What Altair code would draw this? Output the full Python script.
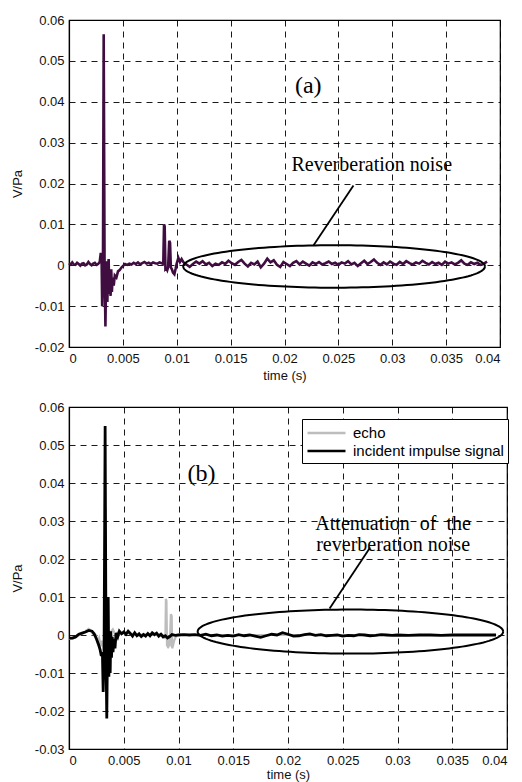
import altair as alt
import numpy as np
import pandas as pd

# ---------------- axis ticks ----------------
x_ticks = [0, 0.005, 0.01, 0.015, 0.02, 0.025, 0.03, 0.035, 0.04]
y_ticks_a = [-0.02, -0.01, 0, 0.01, 0.02, 0.03, 0.04, 0.05, 0.06]
y_ticks_b = [-0.03, -0.02, -0.01, 0, 0.01, 0.02, 0.03, 0.04, 0.05, 0.06]

# ---------------- panel (a): measured signal (time in ms, value in V/Pa) ----------------
a_t_ms = [0.0, 0.15, 0.3, 0.45, 0.6, 0.75, 0.9, 1.05, 1.2, 1.35, 1.5, 1.65, 1.8, 1.95, 2.1, 2.25, 2.4, 2.55, 2.7, 2.85,
          2.95, 3.02, 3.08, 3.15, 3.22, 3.3, 3.38, 3.45, 3.5, 3.56, 3.62, 3.68, 3.74, 3.8, 3.86, 3.92, 3.98, 4.05, 4.15,
          4.25, 4.4, 4.55, 4.7, 4.85, 5.0,
          5.2, 5.4, 5.6, 5.8, 6.0, 6.2, 6.4, 6.6, 6.8, 7.0, 7.2, 7.4, 7.6, 7.8, 8.0, 8.2, 8.4, 8.6, 8.75,
          8.82, 8.88, 8.95, 9.05, 9.12, 9.2, 9.3, 9.38, 9.45, 9.55, 9.65, 9.78, 9.9, 10.0, 10.15, 10.3, 10.45,
          10.6, 10.9, 11.2, 11.5, 11.8, 12.1, 12.4, 12.7, 13.0, 13.3, 13.6, 13.9, 14.2, 14.5, 14.8, 15.1, 15.4, 15.7,
          16.0, 16.3, 16.6, 16.9, 17.2, 17.5, 17.8, 18.1, 18.4, 18.7, 19.0, 19.3, 19.6, 19.9, 20.2, 20.5, 20.8, 21.1,
          21.4, 21.7, 22.0, 22.3, 22.6, 22.9, 23.2, 23.5, 23.8, 24.1, 24.4, 24.7, 25.0, 25.3, 25.6, 25.9, 26.2, 26.5,
          26.8, 27.1, 27.4, 27.7, 28.0, 28.3, 28.6, 28.9, 29.2, 29.5, 29.8, 30.1, 30.4, 30.7, 31.0, 31.3, 31.6, 31.9,
          32.2, 32.5, 32.8, 33.1, 33.4, 33.7, 34.0, 34.3, 34.6, 34.9, 35.2, 35.5, 35.8, 36.1, 36.4, 36.7, 37.0, 37.3,
          37.6, 37.9, 38.2, 38.5, 38.8]
a_v = [0.0005, 0.0002, 0.0007, 0.0002, 0.0001, 0.0006, 0.0003, -0.0001, 0.0004, 0.0005, 0.0000, 0.0002, 0.0008,
       0.0003, 0.0000, 0.0004, 0.0006, 0.0001, 0.0003, 0.0008,
       0.0030, 0.0025, -0.0100, -0.0020, 0.0565, 0.0000, -0.0150, -0.0020, 0.0010, -0.0090, -0.0010, 0.0015, -0.0070,
       -0.0030, -0.0075, -0.0010, -0.0065, -0.0030, -0.0050, -0.0025, -0.0030, -0.0015, -0.0012, -0.0006, -0.0002,
       0.0003, 0.0001, 0.0004, 0.0002, 0.0006, 0.0003, 0.0007, 0.0002, 0.0005, 0.0008, 0.0004, 0.0006, 0.0003, 0.0007,
       0.0005, 0.0004, 0.0007, 0.0005, 0.0003,
       0.0100, 0.0095, -0.0010, -0.0008, -0.0012, -0.0005, 0.0060, 0.0055, -0.0005, -0.0010, -0.0018, -0.0022,
       -0.0008, 0.0005, 0.0018, 0.0008, 0.0015,
       0.0008, 0.0002, -0.0004, 0.0003, 0.0009, 0.0004, 0.0010, 0.0002, 0.0006, -0.0002, 0.0004, 0.0001, 0.0007,
       0.0003, 0.0011, 0.0005, 0.0001, 0.0008, 0.0013, 0.0004, -0.0003, 0.0006, 0.0002, 0.0009, -0.0005, 0.0004,
       0.0016, 0.0007, 0.0012, 0.0001, -0.0004, 0.0008, 0.0003, -0.0002, 0.0006, 0.0010, 0.0002, 0.0009, 0.0004,
       -0.0001, 0.0007, 0.0003, 0.0008, 0.0002, 0.0005, 0.0009, 0.0003, 0.0006, 0.0001, 0.0007, 0.0004, 0.0010,
       0.0002, 0.0006, -0.0002, 0.0005, 0.0011, 0.0003, 0.0008, 0.0014, 0.0006, 0.0001, 0.0007, 0.0002, 0.0009,
       0.0004, 0.0001, 0.0008, 0.0003, 0.0010, 0.0005, 0.0002, 0.0007, 0.0004, 0.0011, 0.0006, 0.0002, 0.0008,
       0.0003, 0.0006, 0.0001, 0.0009, 0.0004, 0.0007, 0.0002, 0.0006, 0.0012, 0.0004, 0.0001, 0.0007, 0.0003,
       0.0006, 0.0001, 0.0004, 0.0009]

# ---------------- panel (b): incident impulse signal ----------------
inc_t_ms = [0.0, 0.3, 0.6, 0.9, 1.2, 1.5, 1.8, 2.1, 2.3, 2.5, 2.7, 2.85, 2.95, 3.05, 3.12, 3.2, 3.3, 3.38, 3.45,
            3.52, 3.58, 3.64, 3.7, 3.76, 3.82, 3.88, 3.95, 4.02, 4.1, 4.2, 4.3, 4.45, 4.6, 4.8, 5.0, 5.2, 5.4, 5.6,
            5.8, 6.0, 6.2, 6.4, 6.6, 6.8, 7.0, 7.2, 7.4, 7.6, 7.8, 8.0, 8.2, 8.4, 8.6, 8.8, 9.0, 9.2, 9.4, 9.7, 10.0,
            10.5, 11.0, 11.5, 12.0, 12.5, 13.0, 13.5, 14.0, 14.5, 15.0, 15.5, 16.0, 16.5, 17.0, 17.5, 18.0, 18.5,
            19.0, 19.5, 20.0, 20.5, 21.0, 21.5, 22.0, 22.5, 23.0, 23.5, 24.0, 24.5, 25.0, 25.5, 26.0, 26.5, 27.0,
            27.5, 28.0, 28.5, 29.0, 29.5, 30.0, 31.0, 32.0, 33.0, 34.0, 35.0, 36.0, 37.0, 38.0, 39.0]
inc_v = [-0.0008, -0.0008, -0.0005, 0.0002, 0.0005, 0.0008, 0.0012, 0.0010, 0.0003, -0.0010, -0.0025, -0.0040,
         -0.0055, -0.0045, -0.0150, -0.0060, 0.0550, -0.0050, -0.0220, -0.0020, 0.0100, -0.0110, -0.0005, -0.0100,
         0.0010, -0.0060, -0.0005, -0.0045, -0.0010, -0.0035, 0.0005, -0.0005, 0.0010, 0.0003, 0.0008, 0.0002,
         0.0010, 0.0004, -0.0003, 0.0006, -0.0002, 0.0003, -0.0004, 0.0001, -0.0003, 0.0004, -0.0002, 0.0006,
         0.0001, 0.0005, -0.0003, 0.0002, -0.0005, -0.0002, -0.0008, -0.0004, 0.0001, -0.0001, 0.0000,
         0.0001, 0.0000, 0.0001, -0.0001, 0.0002, -0.0002, 0.0000, -0.0003, -0.0001, -0.0003, 0.0001, -0.0002,
         0.0000, -0.0003, -0.0006, -0.0002, 0.0002, 0.0000, 0.0006, 0.0002, -0.0003, -0.0002, 0.0001, 0.0003,
         -0.0001, 0.0001, -0.0002, -0.0001, 0.0000, -0.0003, -0.0001, -0.0002, 0.0001, 0.0000, -0.0002, -0.0001,
         0.0001, 0.0000, -0.0001, 0.0000, -0.0001, 0.0000, 0.0000, -0.0001, 0.0000, 0.0000, 0.0000, 0.0000, 0.0000]

# ---------------- panel (b): echo ----------------
echo_t_ms = [0.0, 0.4, 0.8, 1.2, 1.5, 1.8, 2.0, 2.2, 2.45, 2.6, 2.75, 2.9, 3.0, 3.2, 3.5, 3.8, 4.0, 4.2, 4.5, 4.8,
             5.2, 5.6, 6.0, 6.4, 6.8, 7.2, 7.6, 8.0, 8.4, 8.7, 8.8, 8.85, 8.9, 8.95, 9.0, 9.05, 9.12, 9.2, 9.3, 9.38,
             9.42, 9.5, 9.6, 9.7, 9.85, 10.0, 10.5, 15.0, 20.0, 25.0, 30.0, 35.0, 39.0]
echo_v = [-0.0010, -0.0009, -0.0002, 0.0004, 0.0010, 0.0016, 0.0012, 0.0002, 0.0000, -0.0020, -0.0008, -0.0030,
          -0.0015, -0.0040, -0.0020, 0.0008, 0.0015, 0.0002, 0.0008, 0.0003, 0.0006, 0.0002, 0.0004, -0.0002,
          0.0003, 0.0001, 0.0004, 0.0000, 0.0002, -0.0002, -0.0010, 0.0095, 0.0090, -0.0030, -0.0010, -0.0035,
          -0.0020, -0.0030, 0.0055, 0.0050, -0.0035, -0.0028, -0.0015, -0.0008, 0.0000, 0.0001, 0.0000, 0.0000,
          0.0000, 0.0000, 0.0000, 0.0000, 0.0000]

series_names = ["echo", "incident impulse signal"]
series_colors = ["#bdbdbd", "#000000"]

# ---------------- annotations (data coordinates: ms / V/Pa) ----------------
ann_a = {"label_t": 22.2, "label_v": 0.0438, "text_t": 28.1, "text_v": 0.0245,
         "lead": (22.7, 0.0049, 26.4, 0.0195), "ell": (24.6, -0.0003, 14.0, 0.0052)}
ann_b = {"label_t": 12.1, "label_v": 0.0423, "text_t": 29.6, "text_v": 0.0291,
         "lead": (23.8, 0.0070, 27.5, 0.0230), "ell": (25.7, 0.0009, 13.95, 0.0058)}

SANS = "Liberation Sans"
SERIF = "Liberation Serif"


def ellipse_df(cx, cy, rx, ry, n=160):
    th = np.linspace(0, 2 * np.pi, n)
    return pd.DataFrame({"t": (cx + rx * np.cos(th)) / 1000.0, "v": cy + ry * np.sin(th), "i": np.arange(n)})


def x_enc(title_pad):
    return alt.X("t:Q", scale=alt.Scale(domain=[0, 0.04], nice=False, zero=False),
                 axis=alt.Axis(values=x_ticks, labelExpr="'' + datum.value", title="time (s)",
                               titlePadding=title_pad))


def y_enc(dom, ticks):
    return alt.Y("v:Q", scale=alt.Scale(domain=dom, nice=False, zero=False),
                 axis=alt.Axis(values=ticks, labelExpr="'' + datum.value", title="V/Pa"))


def annotations(ann, x, y, label, text, fontsize_text):
    el = ellipse_df(*ann["ell"])
    ell = alt.Chart(el).mark_line(color="black", strokeWidth=2).encode(x=x, y=y, order="i:Q")
    lx1, ly1, lx2, ly2 = ann["lead"]
    lead_df = pd.DataFrame({"t": [lx1 / 1000], "v": [ly1], "t2": [lx2 / 1000], "v2": [ly2]})
    lead = alt.Chart(lead_df).mark_rule(color="black", strokeWidth=1.8).encode(
        x=x, y=y, x2="t2:Q", y2="v2:Q")
    lab_df = pd.DataFrame({"t": [ann["label_t"] / 1000], "v": [ann["label_v"]], "s": [label]})
    lab = alt.Chart(lab_df).mark_text(font=SERIF, fontSize=24, color="black").encode(x=x, y=y, text="s:N")
    txt_df = pd.DataFrame({"t": [ann["text_t"] / 1000], "v": [ann["text_v"]], "s": [text]})
    txt = alt.Chart(txt_df).mark_text(font=SERIF, fontSize=fontsize_text, color="black",
                                      lineBreak="\n", lineHeight=21).encode(x=x, y=y, text="s:N")
    return [ell, lead, lab, txt]


# ---------------- panel (a) ----------------
xa = x_enc(4)
ya = y_enc([-0.02, 0.06], y_ticks_a)
df_a = pd.DataFrame({"t": [t / 1000 for t in a_t_ms], "v": a_v})
line_a = alt.Chart(df_a).mark_line(color="#3f0d40", strokeWidth=2.6).encode(x=xa, y=ya)
panel_a = alt.layer(line_a, *annotations(ann_a, xa, ya, "(a)", "Reverberation noise", 20)
                    ).properties(width=431, height=327)

# ---------------- panel (b) ----------------
xb = x_enc(1)
yb = y_enc([-0.03, 0.06], y_ticks_b)
df_echo = pd.DataFrame({"t": [t / 1000 for t in echo_t_ms], "v": echo_v, "s": series_names[0]})
df_inc = pd.DataFrame({"t": [t / 1000 for t in inc_t_ms], "v": inc_v, "s": series_names[1]})
color = alt.Color("s:N", title=None,
                  scale=alt.Scale(domain=series_names, range=series_colors),
                  legend=alt.Legend(orient="none", legendX=233, legendY=399, symbolType="M-1,0H3.47",
                                    symbolSize=289, symbolStrokeWidth=2.5, labelFont=SANS, labelFontSize=15,
                                    labelColor="black", strokeColor="black", fillColor="white",
                                    padding=4, rowPadding=0, labelOffset=27, cornerRadius=0))
line_echo = alt.Chart(df_echo).mark_line(strokeWidth=2.2).encode(x=xb, y=yb, color=color)
line_inc = alt.Chart(df_inc).mark_line(strokeWidth=2.8).encode(x=xb, y=yb, color=color)
panel_b = alt.layer(line_echo, line_inc,
                    *annotations(ann_b, xb, yb, "(b)",
                                 "Attenuation\u00a0 of\u00a0 the\nreverberation noise", 20)
                    ).properties(width=438, height=342)

chart = alt.vconcat(panel_a, panel_b, spacing=17).properties(
    padding={"left": 10, "top": 13, "right": 5, "bottom": 0},
    background="white",
).configure_view(stroke="black", strokeWidth=1.2).configure_axis(
    grid=True, gridColor="#000000", gridDash=[6, 5], gridWidth=0.9, gridOpacity=1,
    domain=True, domainColor="black", domainWidth=1.2, ticks=False,
    labelFont=SANS, labelFontSize=13, labelColor="#111111", labelPadding=5,
    titleFont=SANS, titleFontSize=13, titleFontWeight="normal", titleColor="#111111",
).configure_axisY(titlePadding=10)

chart.save("out.html", embed_options={"renderer": "svg", "actions": False})
